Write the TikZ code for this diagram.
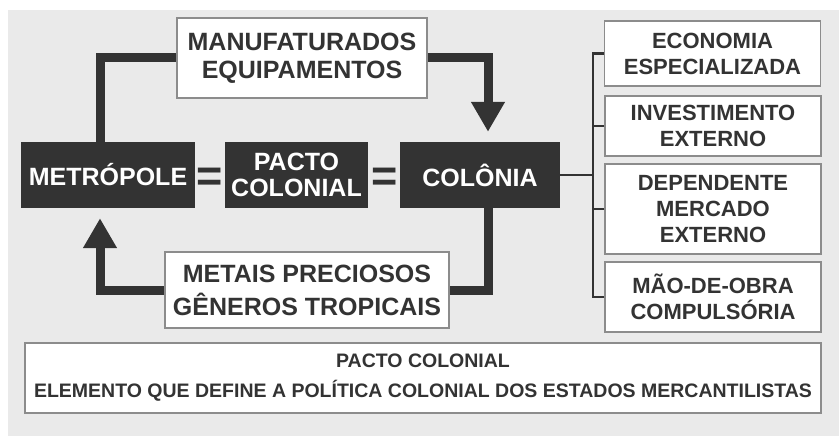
\documentclass[tikz,border=0pt]{standalone}
\usepackage{fontspec}
\setmainfont{Liberation Sans}
\usetikzlibrary{arrows.meta,positioning}
\definecolor{panel}{HTML}{EAEAEA}
\definecolor{ink}{HTML}{333333}
\definecolor{frame}{HTML}{8C8C8C}
\tikzset{
  darkbox/.style={fill=ink, text=white, font=\bfseries\fontsize{25}{26}\selectfont, align=center, inner sep=0pt},
  lightbox/.style={fill=white, draw=frame, line width=1.4pt, text=ink, font=\bfseries\fontsize{25}{28}\selectfont, align=center, inner sep=0pt},
  sidebox/.style={lightbox, font=\bfseries\fontsize{22}{26}\selectfont, minimum width=216pt},
  eqsign/.style={text=ink, font=\bfseries\fontsize{45}{45}\selectfont, inner sep=0pt},
  pipe/.style={draw=ink, line width=9pt},
  flow/.style={pipe, -{Triangle[width=32pt,length=30pt]}},
  branch/.style={draw=ink, line width=2.5pt},
}
\begin{document}
\begin{tikzpicture}[x=1pt,y=-1pt]
  \useasboundingbox (0,0) rectangle (839,436);
  \fill[panel] (8,10) rectangle (839,436);

  % central chain
  \node[darkbox, minimum width=174pt, minimum height=66pt] (metro) at (108,175) {METRÓPOLE};
  \node[darkbox, minimum width=143pt, minimum height=66pt] (pacto) at (296.5,175) {PACTO\\COLONIAL};
  \node[darkbox, minimum width=160pt, minimum height=66pt] (colonia) at (480,175) {COLÔNIA};
  \node[eqsign] (eqa) at (210,180) {=};
  \node[eqsign] (eqb) at (385,180) {=};

  % goods in both directions
  \node[lightbox, minimum width=250pt, minimum height=80pt] (manuf) at (302,58) {MANUFATURADOS\\EQUIPAMENTOS};
  \node[lightbox, minimum width=284pt, minimum height=76pt, font=\bfseries\fontsize{25}{33}\selectfont] (metais) at (307,290) {METAIS PRECIOSOS\\GÊNEROS TROPICAIS};

  \draw[pipe] ([xshift=-8pt]metro.north) |- (manuf.west);
  \draw[flow] (manuf.east) -| ([xshift=8pt,yshift=10pt]colonia.north);
  \draw[pipe] ([xshift=8pt]colonia.south) |- (metais.east);
  \draw[flow] (metais.west) -| ([xshift=-8pt,yshift=-10pt]metro.south);

  % traits of the colony
  \node[sidebox, minimum height=65pt] (econ) at (712.5,53.5) {ECONOMIA\\ESPECIALIZADA};
  \node[sidebox, minimum height=60pt] (invest) at (713,126) {INVESTIMENTO\\EXTERNO};
  \node[sidebox, minimum height=90pt] (depend) at (713,209) {DEPENDENTE\\MERCADO\\EXTERNO};
  \node[sidebox, minimum height=70pt] (mao) at (713,297) {MÃO-DE-OBRA\\COMPULSÓRIA};

  \coordinate (spine) at (593,175);
  \draw[branch] (colonia.east) -- (colonia.east -| spine);
  \foreach \trait in {econ,invest,depend,mao}
    \draw[branch] (\trait.west) -| (spine);

  % definition
  \node[lightbox, minimum width=796pt, minimum height=70pt, font=\bfseries\fontsize{19.5}{30}\selectfont] (defin) at (423,378)
    {PACTO COLONIAL\\ELEMENTO QUE DEFINE A POLÍTICA COLONIAL DOS ESTADOS MERCANTILISTAS};
\end{tikzpicture}
\end{document}
